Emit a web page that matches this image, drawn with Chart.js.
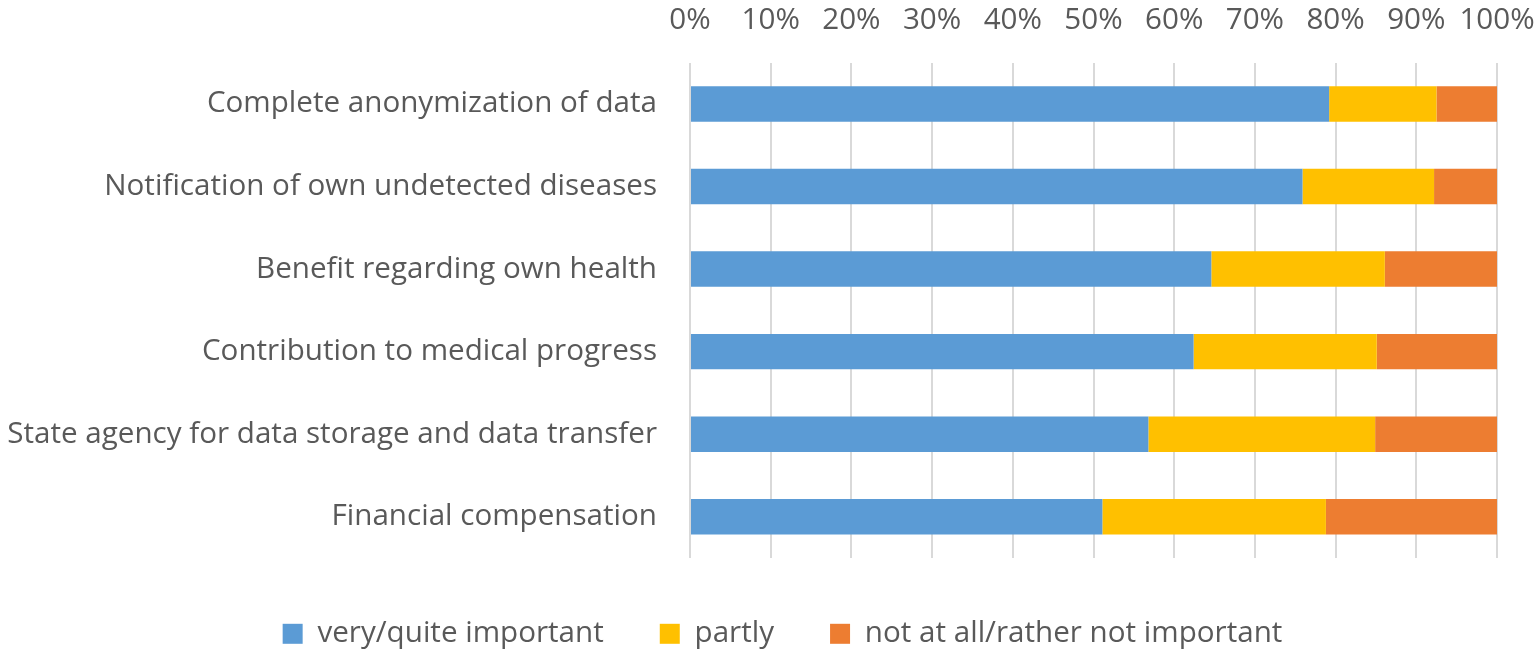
<!DOCTYPE html>
<html>
<head>
<meta charset="utf-8">
<script src="https://cdn.jsdelivr.net/npm/chart.js@4.4.1/dist/chart.umd.min.js"></script>
<style>
  html, body { margin: 0; padding: 0; background: #fff; }
  #wrap { width: 1537px; height: 654px; position: relative; }
</style>
</head>
<body>
<div id="wrap"><canvas id="c"></canvas></div>
<script>
const categories = [
  "Complete anonymization of data",
  "Notification of own undetected diseases",
  "Benefit regarding own health",
  "Contribution to medical progress",
  "State agency for data storage and data transfer",
  "Financial compensation"
];
const seriesNames = ["very/quite important", "partly", "not at all/rather not important"];
const veryImportant = [79.2, 75.9, 64.6, 62.4, 56.8, 51.1];
const partly = [13.3, 16.3, 21.5, 22.7, 28.1, 27.7];
const notImportant = [7.5, 7.8, 13.9, 14.9, 15.1, 21.2];
const xTicks = [0, 10, 20, 30, 40, 50, 60, 70, 80, 90, 100];

const FONT = "'Open Sans', 'DejaVu Sans', sans-serif";
const TEXT = "#595959";
const FS = 29.6;

const legendPlugin = {
  id: 'legendTune',
  beforeLayout(chart) {
    const lg = chart.legend;
    if (lg && !lg._patched) {
      const origFit = lg.fit;
      lg.fit = function () { origFit.call(this); this.height = 96; };
      const origDraw = lg.draw;
      lg.draw = function () {
        const l = this.left, t = this.top;
        this.left = l + 68;
        this.top = t + 5;
        origDraw.call(this);
        this.left = l;
        this.top = t;
      };
      lg._patched = true;
    }
  }
};

new Chart(document.getElementById('c'), {
  type: 'bar',
  data: {
    labels: categories,
    datasets: [
      { label: seriesNames[0], data: veryImportant, backgroundColor: '#5B9BD5' },
      { label: seriesNames[1], data: partly, backgroundColor: '#FFC000' },
      { label: seriesNames[2], data: notImportant, backgroundColor: '#ED7D31' }
    ]
  },
  plugins: [legendPlugin],
  options: {
    indexAxis: 'y',
    responsive: true,
    maintainAspectRatio: false,
    animation: false,
    devicePixelRatio: 1,
    layout: { padding: { left: 0, right: 40, top: 0, bottom: 0 } },
    datasets: { bar: { categoryPercentage: 1.0, barPercentage: 0.43, borderWidth: 0 } },
    scales: {
      x: {
        stacked: true,
        position: 'top',
        min: 0, max: 100,
        afterBuildTicks: (s) => { s.ticks = xTicks.map(v => ({ value: v })); },
        ticks: {
          color: TEXT,
          font: { family: FONT, size: FS },
          padding: 24,
          maxRotation: 0,
          autoSkip: false,
          callback: (v) => v + '%'
        },
        grid: { color: '#D9D9D9', lineWidth: 2, drawTicks: false },
        border: { display: false },
        afterFit: (s) => { s.height = 62.7; s.paddingLeft = 0; s.paddingRight = 0; }
      },
      y: {
        stacked: true,
        ticks: {
          color: TEXT,
          font: { family: FONT, size: FS },
          padding: 33
        },
        grid: { display: false, drawTicks: false },
        border: { display: false },
        afterFit: (s) => { s.width = 690; }
      }
    },
    plugins: {
      legend: {
        position: 'bottom',
        labels: {
          color: TEXT,
          font: { family: FONT, size: FS },
          boxWidth: 20,
          boxHeight: 20,
          padding: 56
        }
      },
      tooltip: { enabled: false }
    }
  }
});
</script>
</body>
</html>
